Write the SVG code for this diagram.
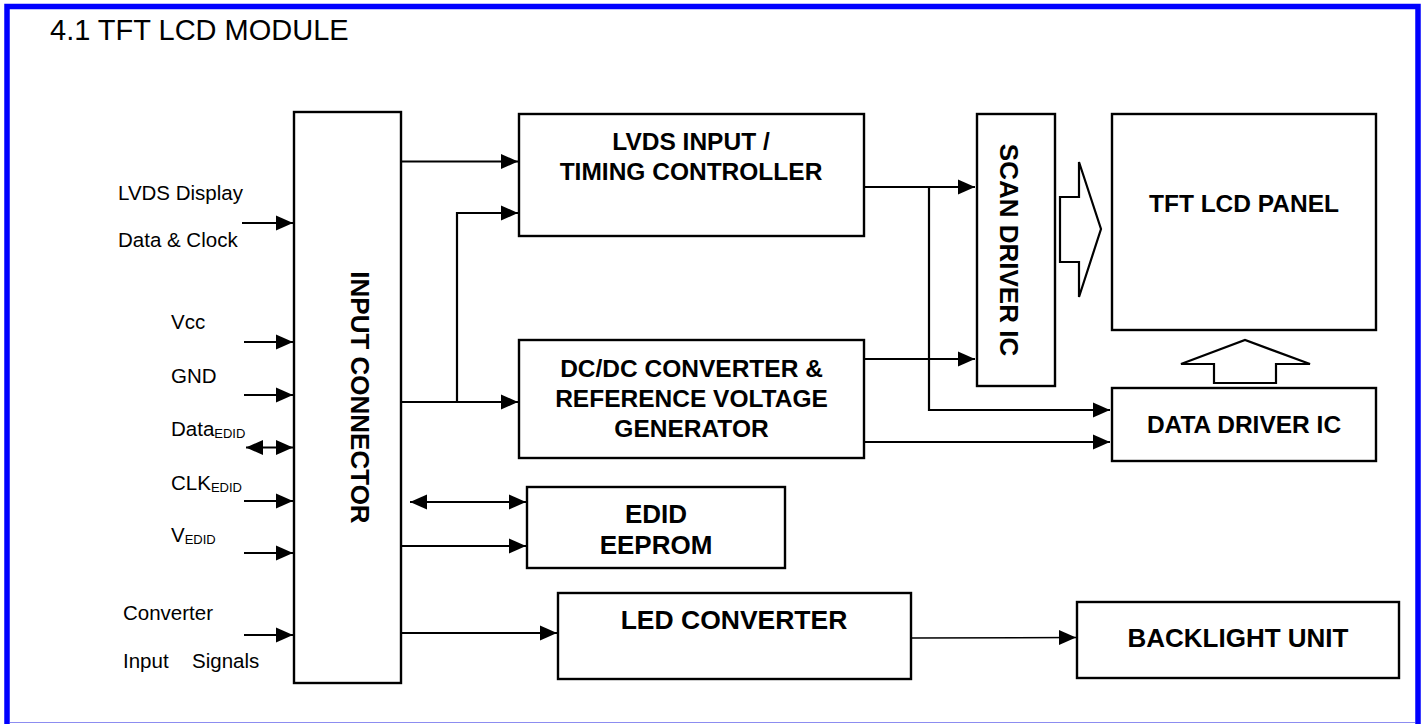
<svg xmlns="http://www.w3.org/2000/svg" width="1427" height="724" viewBox="0 0 1427 724">
<defs>
<marker id="ah" markerUnits="userSpaceOnUse" markerWidth="19" markerHeight="17" refX="17" refY="8" orient="auto-start-reverse"><path d="M0,0.5 L17,8 L0,15.5 z" fill="#000"/></marker>
<style>
.box{fill:#fff;stroke:#000;stroke-width:2.4}
.ln{fill:none;stroke:#000;stroke-width:2}
.ar{fill:none;stroke:#000;stroke-width:2.2;marker-end:url(#ah)}
.da{fill:none;stroke:#000;stroke-width:2.2;marker-end:url(#ah);marker-start:url(#ah)}
.hl{fill:#fff;stroke:#000;stroke-width:2.2;stroke-linejoin:miter}
.b{font-family:"Liberation Sans",Arial,sans-serif;font-weight:bold;fill:#000;text-anchor:middle}
.r{font-family:"Liberation Sans",Arial,sans-serif;fill:#000;font-size:20.5px}
.s{font-size:13px}
</style>
</defs>
<rect width="1427" height="724" fill="#fff"/>
<path d="M7,724 V6.5 H1418 V724" fill="none" stroke="#0000ff" stroke-width="5.5"/>
<line x1="10" y1="722.5" x2="1415" y2="722.5" stroke="#8c8cf0" stroke-width="1.2"/>
<text x="50" y="40" font-family="Liberation Sans, Arial, sans-serif" font-size="29">4.1 TFT LCD MODULE</text>

<g id="input-labels">
<text class="r" x="118" y="200">LVDS Display</text>
<text class="r" x="118" y="247">Data &amp; Clock</text>
<text class="r" x="171" y="329">Vcc</text>
<text class="r" x="171" y="383">GND</text>
<text class="r" x="171" y="436">Data<tspan class="s" dy="2">EDID</tspan></text>
<text class="r" x="171" y="490">CLK<tspan class="s" dy="2">EDID</tspan></text>
<text class="r" x="171" y="542">V<tspan class="s" dy="2">EDID</tspan></text>
<text class="r" x="123" y="620">Converter</text>
<text class="r" x="123" y="668">Input<tspan x="192">Signals</tspan></text>
</g>

<g id="input-connector">
<rect class="box" x="294" y="112" width="107" height="571"/>
<text class="b" font-size="26" transform="translate(360.5,397.5) rotate(90)" x="0" y="9.3">INPUT CONNECTOR</text>
</g>

<g id="timing-controller">
<rect class="box" x="519" y="114" width="345" height="122"/>
<text class="b" font-size="24.5" x="691" y="150">LVDS INPUT /</text>
<text class="b" font-size="24.5" x="691" y="180">TIMING CONTROLLER</text>
</g>

<g id="dcdc-converter">
<rect class="box" x="519" y="340" width="345" height="118"/>
<text class="b" font-size="24.5" x="691.5" y="377">DC/DC CONVERTER &amp;</text>
<text class="b" font-size="24.5" x="691.5" y="407">REFERENCE VOLTAGE</text>
<text class="b" font-size="24.5" x="691.5" y="437">GENERATOR</text>
</g>

<g id="edid-eeprom">
<rect class="box" x="527" y="487" width="258" height="81"/>
<text class="b" font-size="26" x="656" y="523">EDID</text>
<text class="b" font-size="26" x="656" y="554">EEPROM</text>
</g>

<g id="led-converter">
<rect class="box" x="558" y="593" width="353" height="86"/>
<text class="b" font-size="26.5" x="734" y="629">LED CONVERTER</text>
</g>

<g id="scan-driver">
<rect class="box" x="977" y="114" width="78" height="272"/>
<text class="b" font-size="26" transform="translate(1009,250) rotate(90)" x="0" y="9.3">SCAN DRIVER IC</text>
</g>

<g id="tft-panel">
<rect class="box" x="1112" y="114" width="264" height="216"/>
<text class="b" font-size="24.5" x="1244" y="212">TFT LCD PANEL</text>
</g>

<g id="data-driver">
<rect class="box" x="1112" y="388" width="264" height="73"/>
<text class="b" font-size="24.5" x="1244" y="433">DATA DRIVER IC</text>
</g>

<g id="backlight-unit">
<rect class="box" x="1077" y="602" width="322" height="76"/>
<text class="b" font-size="26" x="1238" y="647">BACKLIGHT UNIT</text>
</g>

<g id="connectors">
<line class="ar" x1="242" y1="223" x2="293" y2="223"/>
<line class="ar" x1="244" y1="342" x2="293" y2="342"/>
<line class="ar" x1="244" y1="395" x2="293" y2="395"/>
<line class="da" x1="246" y1="447.5" x2="293" y2="447.5"/>
<line class="ar" x1="244" y1="501" x2="293" y2="501"/>
<line class="ar" x1="244" y1="553" x2="293" y2="553"/>
<line class="ar" x1="244" y1="635" x2="293" y2="635"/>

<line class="ar" x1="401" y1="161.5" x2="518" y2="161.5"/>
<line class="ar" x1="401" y1="402" x2="518" y2="402"/>
<polyline class="ar" points="457,402 457,213 518,213"/>
<line class="da" x1="410" y1="502" x2="526" y2="502"/>
<line class="ar" x1="401" y1="546" x2="526" y2="546"/>
<line class="ar" x1="401" y1="633" x2="557" y2="633"/>

<line class="ar" x1="864" y1="187" x2="975" y2="187"/>
<polyline class="ar" points="929,187 929,410 1110,410"/>
<line class="ar" x1="864" y1="359" x2="975" y2="359"/>
<line class="ar" x1="864" y1="442" x2="1110" y2="442"/>
<line x1="911" y1="638" x2="1076" y2="637.5" stroke="#000" stroke-width="1.6" marker-end="url(#ah)"/>

<polygon class="hl" points="1060,197 1079,197 1079,162 1101,229 1079,297 1079,262 1060,262"/>
<polygon class="hl" points="1214,383 1276,383 1276,364 1310,364 1245,340 1181,364 1214,364"/>
</g>
</svg>
